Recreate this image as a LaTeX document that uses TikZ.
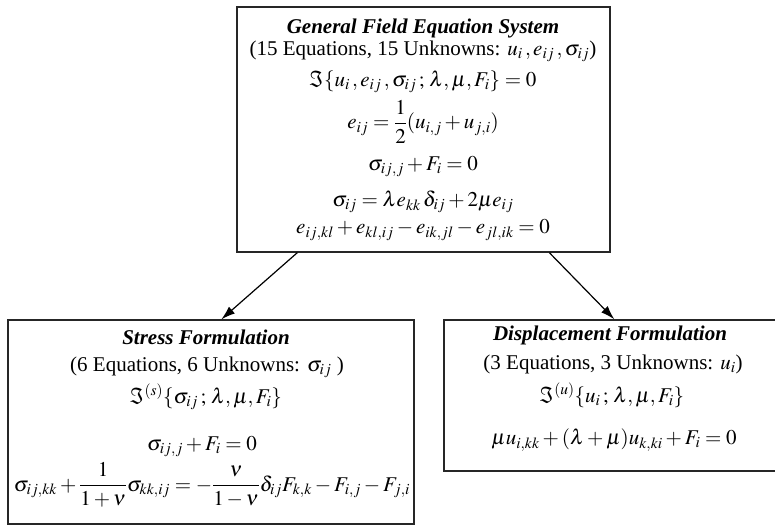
\documentclass[tikz,border=0pt]{standalone}
\usepackage{amsmath}
\usepackage{mathptmx}
\usepackage{fontspec}
\setmainfont{Liberation Serif}
\usetikzlibrary{arrows.meta}
\begin{document}
\begin{tikzpicture}[x=1bp,y=-1bp,
  box/.style={draw=black!85,line width=1.3bp,inner sep=0pt},
  txt/.style={inner sep=0pt,font=\fontsize{21bp}{25bp}\selectfont},
  ttl/.style={txt,font=\fontsize{21bp}{25bp}\selectfont\bfseries\itshape},
  arr/.style={draw=black,line width=1.2bp,-{Latex[length=14bp,width=9bp]}}]
\useasboundingbox (0,0) rectangle (775,525);
% boxes
\node[box,minimum width=373bp,minimum height=245bp] (top) at (423.5,129.5) {};
\node[box,minimum width=406bp,minimum height=204bp] (stress) at (211,422) {};
\node[box,minimum width=334bp,minimum height=151bp] (disp) at (611,395.5) {};
% top box text
\node[ttl] (t1) at (423,28) {General Field Equation System};
\node[txt] (t2) at (423,51) {(15 Equations, 15 Unknowns: $u_i\,,e_{ij}\,,\sigma_{ij}$)};
\node[txt] (t3) at (423,82) {$\Im\{u_i\,,e_{ij}\,,\sigma_{ij}\,;\,\lambda,\mu,F_i\}=0$};
\node[txt] (t4) at (423,122) {$e_{ij}=\dfrac{1}{2}(u_{i,j}+u_{j,i})$};
\node[txt] (t5) at (423,167) {$\sigma_{ij,j}+F_i=0$};
\node[txt] (t6) at (423,202) {$\sigma_{ij}=\lambda e_{kk}\,\delta_{ij}+2\mu e_{ij}$};
\node[txt] (t7) at (423,230) {$e_{ij,kl}+e_{kl,ij}-e_{ik,jl}-e_{jl,ik}=0$};
% stress box text
\node[ttl] (s1) at (206,337) {Stress Formulation};
\node[txt] (s2) at (207,367) {(6 Equations, 6 Unknowns: $\sigma_{ij}$ )};
\node[txt] (s3) at (206,397) {$\Im^{(s)}\{\sigma_{ij}\,;\,\lambda,\mu,F_i\}$};
\node[txt] (s4) at (202,447) {$\sigma_{ij,j}+F_i=0$};
\node[txt] (s5) at (212,485) {$\sigma_{ij,kk}+\dfrac{1}{1+\nu}\sigma_{kk,ij}=-\dfrac{\nu}{1-\nu}\delta_{ij}F_{k,k}-F_{i,j}-F_{j,i}$};
% displacement box text
\node[ttl] (d1) at (610,335) {Displacement Formulation};
\node[txt] (d2) at (613,364) {(3 Equations, 3 Unknowns: $u_i$)};
\node[txt] (d3) at (612,395) {$\Im^{(u)}\{u_i\,;\,\lambda,\mu,F_i\}$};
\node[txt] (d4) at (614,440) {$\mu u_{i,kk}+(\lambda+\mu)u_{k,ki}+F_i=0$};
% arrows
\draw[arr] ([xshift=61bp]top.south west) -- ([xshift=214bp]stress.north west);
\draw[arr] ([xshift=313bp]top.south west) -- ([xshift=171bp]disp.north west);
\end{tikzpicture}
\end{document}
